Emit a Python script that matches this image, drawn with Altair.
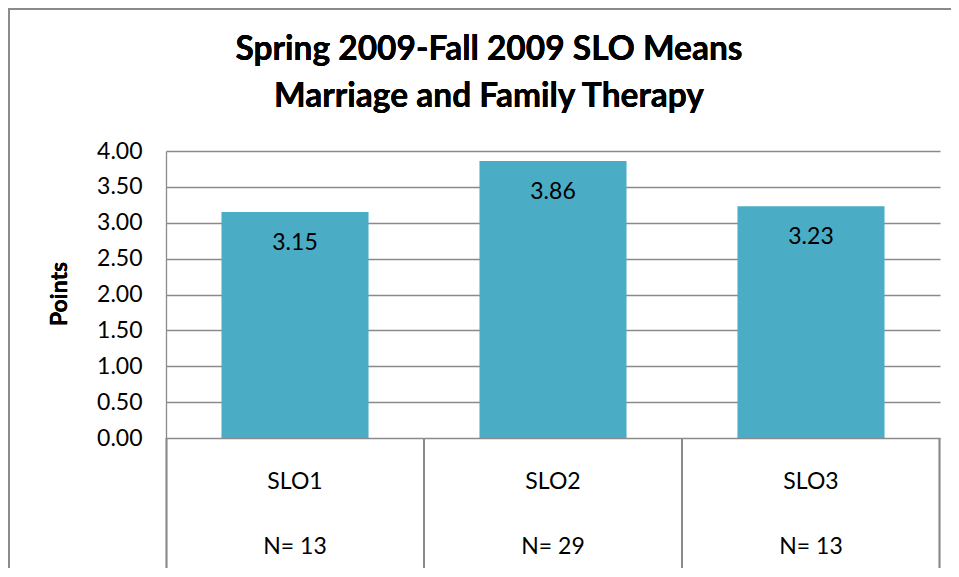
import altair as alt
import pandas as pd

categories = ["SLO1", "SLO2", "SLO3"]
means = [3.15, 3.86, 3.23]
n_labels = ["N= 13", "N= 29", "N= 13"]
title_lines = ["Spring 2009-Fall 2009 SLO Means", "Marriage and Family Therapy"]
y_ticks = [0, 0.5, 1, 1.5, 2, 2.5, 3, 3.5, 4]
y_title = "Points"

df = pd.DataFrame({
    "cat": categories,
    "mean": means,
    "n": n_labels,
    "label": [f"{m:.2f}" for m in means],
})

W, H = 774, 287
FONT = "Lato"
GRID = "#8a8a8a"
BAR = "#4BACC6"
FS = 23

xscale = alt.Scale(domain=categories, paddingInner=0.43, paddingOuter=0.215)
yscale = alt.Scale(domain=[0, 4], nice=False)
yaxis = alt.Axis(
    values=y_ticks, format=".2f", title=None, grid=True,
    gridColor=GRID, gridWidth=1.3, domainColor=GRID, domainWidth=1.3,
    ticks=False, labelFontSize=FS, labelPadding=24, labelColor="black",
    labelFont=FONT, labelOverlap=False, labelBound=False,
)

base = alt.Chart(df)

bars = base.mark_bar(color=BAR).encode(
    x=alt.X("cat:N", scale=xscale, axis=None, sort=categories),
    y=alt.Y("mean:Q", scale=yscale, axis=yaxis),
)

value_labels = base.mark_text(
    font=FONT, fontSize=FS, color="black", baseline="middle", dy=31
).encode(
    x=alt.X("cat:N", scale=xscale, axis=None, sort=categories),
    y=alt.Y("mean:Q", scale=yscale, axis=yaxis),
    text="label:N",
)

cat_labels = base.mark_text(
    font=FONT, fontSize=FS, color="black", baseline="middle"
).encode(
    x=alt.X("cat:N", scale=xscale, axis=None, sort=categories),
    y=alt.value(H + 44),
    text="cat:N",
)

n_text = base.mark_text(
    font=FONT, fontSize=FS, color="black", baseline="middle"
).encode(
    x=alt.X("cat:N", scale=xscale, axis=None, sort=categories),
    y=alt.value(H + 109),
    text="n:N",
)

layers = [bars, value_labels, cat_labels, n_text]

# table vertical lines
for xv in [0.5, 258, 516, 773.5]:
    layers.append(
        alt.Chart(df).mark_rule(color=GRID, strokeWidth=1.5).encode(
            x=alt.value(xv), y=alt.value(H), y2=alt.value(H + 130)
        )
    )

# outer chart border (left and top)
layers.append(
    alt.Chart(df).mark_rule(color=GRID, strokeWidth=2).encode(
        x=alt.value(-157.3), y=alt.value(-143), y2=alt.value(H + 140)
    )
)
layers.append(
    alt.Chart(df).mark_rule(color=GRID, strokeWidth=2).encode(
        x=alt.value(-158), x2=alt.value(W + 20), y=alt.value(-142)
    )
)

# title
for i, line in enumerate(title_lines):
    layers.append(
        alt.Chart(df).mark_text(
            text=line, font=FONT, fontSize=33.5, fontWeight="bold",
            color="black", baseline="middle", align="center",
        ).encode(x=alt.value(323), y=alt.value(-101 + 47 * i))
    )

# y axis title
layers.append(
    alt.Chart(df).mark_text(
        text=y_title, font=FONT, fontSize=23, fontWeight="bold",
        color="black", baseline="middle", align="center", angle=270,
    ).encode(x=alt.value(-106), y=alt.value(143))
)

chart = alt.layer(*layers).properties(
    width=W, height=H, autosize="none",
    padding={"left": 158, "top": 143, "right": 11, "bottom": 130},
    background="white",
).configure_view(stroke=None)

chart.save("out.html", embed_options={"renderer": "svg", "actions": False})
